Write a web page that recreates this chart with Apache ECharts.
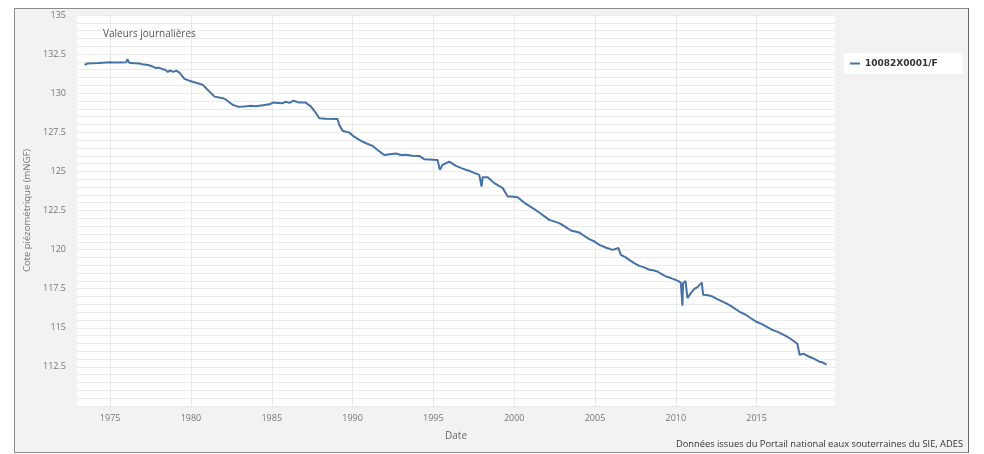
<!DOCTYPE html>
<html>
<head>
<meta charset="utf-8">
<script src="https://cdn.jsdelivr.net/npm/echarts@6/dist/echarts.min.js"></script>
<style>
  html, body { margin: 0; padding: 0; background: #fff; }
  #frame { position: absolute; left: 14px; top: 8px; width: 953px; height: 443px; border: 1px solid #8c8c8c; border-right-color: #666; background: #f2f2f2; }
  #chart { position: absolute; left: 0; top: 0; width: 984px; height: 454px; }
</style>
</head>
<body>
<div id="frame"></div>
<div id="chart"></div>
<script>
// Decimal years of the sampled points
const dates = [
  1973.42, 1973.6, 1974.3, 1975.0, 1975.07, 1975.15, 1975.6, 1976.0, 1976.07, 1976.18,
  1976.5, 1976.82, 1977.0, 1977.34, 1977.6, 1977.86, 1978.0, 1978.2, 1978.4, 1978.57,
  1978.7, 1978.9, 1979.1, 1979.3, 1979.6, 1979.7, 1979.9, 1980.2, 1980.43, 1980.74,
  1980.95, 1981.15, 1981.46, 1981.98, 1982.15, 1982.6, 1982.9, 1983.3, 1983.62, 1984.0,
  1984.24, 1984.35, 1984.86, 1985.07, 1985.4, 1985.68, 1985.85, 1986.1, 1986.35, 1986.7,
  1987.1, 1987.43, 1987.74, 1987.94, 1988.35, 1989.07, 1989.18, 1989.38, 1989.8, 1990.1,
  1990.52, 1990.83, 1991.24, 1991.55, 1991.96, 1992.3, 1992.68, 1993.0, 1993.3, 1993.7,
  1994.12, 1994.43, 1995.26, 1995.4, 1995.57, 1995.98, 1996.4, 1996.81, 1997.33, 1997.84,
  1997.98, 1998.05, 1998.36, 1998.77, 1999.29, 1999.6, 1999.81, 2000.21, 2000.73, 2001.2,
  2001.55, 2002.17, 2002.79, 2003.1, 2003.51, 2004.03, 2004.3, 2004.65, 2005.0, 2005.26,
  2005.7, 2006.09, 2006.45, 2006.5, 2006.6, 2006.9, 2007.12, 2007.4, 2007.74, 2008.0,
  2008.36, 2008.6, 2008.87, 2009.1, 2009.39, 2009.7, 2010.1, 2010.31, 2010.38, 2010.41,
  2010.45, 2010.6, 2010.72, 2010.93, 2011.13, 2011.34, 2011.61, 2011.69, 2012.0, 2012.27,
  2012.6, 2013.09, 2013.4, 2013.92, 2014.3, 2014.95, 2015.3, 2015.97, 2016.3, 2016.8,
  2017.1, 2017.52, 2017.66, 2017.93, 2018.2, 2018.45, 2018.86, 2019.1, 2019.34
];
// Piezometric level (mNGF)
const levels = [
  131.81, 131.9, 131.93, 131.98, 132.06, 131.97, 131.96, 131.98, 132.18, 131.94,
  131.92, 131.9, 131.85, 131.8, 131.72, 131.6, 131.64, 131.55, 131.5, 131.36,
  131.46, 131.36, 131.44, 131.3, 130.92, 131.0, 130.8, 130.7, 130.64, 130.53,
  130.3, 130.1, 129.78, 129.68, 129.6, 129.25, 129.14, 129.15, 129.19, 129.16,
  129.2, 129.3, 129.29, 129.4, 129.38, 129.36, 129.45, 129.38, 129.52, 129.4,
  129.4, 129.14, 128.72, 128.4, 128.37, 128.35, 127.97, 127.6, 127.48, 127.22,
  126.95, 126.8, 126.63, 126.37, 126.05, 126.1, 126.14, 126.05, 126.07, 126.0,
  125.99, 125.78, 125.73, 125.1, 125.42, 125.63, 125.35, 125.18, 124.99, 124.78,
  124.03, 124.63, 124.63, 124.25, 123.93, 123.39, 123.4, 123.35, 122.92, 122.62,
  122.37, 121.9, 121.69, 121.5, 121.22, 121.09, 120.9, 120.67, 120.5, 120.3,
  120.12, 119.98, 120.1, 120.14, 119.66, 119.5, 119.34, 119.15, 118.96, 118.88,
  118.71, 118.68, 118.6, 118.45, 118.28, 118.18, 118.02, 117.89, 117.85, 116.41,
  117.85, 118.0, 116.9, 117.22, 117.47, 117.6, 117.89, 117.11, 117.08, 117.0,
  116.82, 116.58, 116.4, 116.04, 115.85, 115.4, 115.25, 114.87, 114.74, 114.49,
  114.3, 113.98, 113.28, 113.34, 113.18, 113.07, 112.85, 112.78, 112.64
];
const xTicks = [1975, 1980, 1985, 1990, 1995, 2000, 2005, 2010, 2015];
const seriesName = '10082X0001/F';

const seriesData = dates.map((d, i) => [d, levels[i]]);
const font = '"Open Sans", "DejaVu Sans", sans-serif';

const chart = echarts.init(document.getElementById('chart'), null, { renderer: 'canvas' });
chart.setOption({
  backgroundColor: 'transparent',
  animation: false,
  textStyle: { fontFamily: font },
  title: [
    { text: 'Valeurs journalières', left: 98, top: 24, textStyle: { fontSize: 10, fontWeight: 'normal', color: '#555', fontFamily: font } },
    { text: 'Données issues du Portail national eaux souterraines du SIE, ADES', right: 21, top: 440, padding: 0,
      textStyle: { fontSize: 9.3, fontWeight: 'normal', color: '#333', fontFamily: font } }
  ],
  legend: {
    data: [seriesName],
    left: 844, top: 53,
    orient: 'vertical',
    backgroundColor: '#fff',
    padding: [6, 25, 6, 6],
    icon: 'rect', itemWidth: 10, itemHeight: 2,
    textStyle: { fontSize: 9, fontWeight: 'bold', color: '#333', fontFamily: '"DejaVu Sans", sans-serif' }
  },
  grid: { left: 77, top: 15, width: 758, height: 391, show: true, backgroundColor: '#fff', borderWidth: 0 },
  xAxis: {
    type: 'value', min: 1972.95, max: 2019.85,
    name: 'Date', nameLocation: 'middle', nameGap: 25,
    nameTextStyle: { fontSize: 10, color: '#666' },
    axisLine: { show: false },
    axisTick: { show: false, customValues: xTicks },
    axisLabel: { customValues: xTicks, fontSize: 9, color: '#777', margin: 8, formatter: v => String(v) },
    splitLine: { show: true, lineStyle: { color: '#e8e8e8', width: 1 } }
  },
  yAxis: {
    type: 'value', min: 110, max: 135, interval: 2.5,
    name: 'Cote piézométrique (mNGF)', nameLocation: 'middle', nameGap: 43, nameRotate: 90,
    nameTextStyle: { fontSize: 9.5, color: '#777' },
    axisLine: { show: false }, axisTick: { show: false },
    axisLabel: { fontSize: 9, color: '#777', margin: 11, showMinLabel: false },
    splitLine: { show: true, lineStyle: { color: '#ebebeb', width: 1 } },
    minorTick: { show: false, splitNumber: 5 },
    minorSplitLine: { show: true, lineStyle: { color: '#ebebeb', width: 1 } }
  },
  series: [{
    name: seriesName, type: 'line', data: seriesData,
    showSymbol: false, symbol: 'none',
    lineStyle: { color: '#4572A7', width: 2 },
    itemStyle: { color: '#4572A7' }
  }]
});
</script>
</body>
</html>
